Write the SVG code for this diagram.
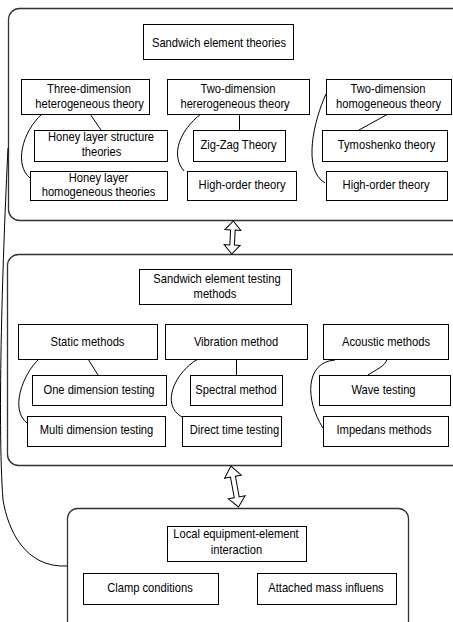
<svg xmlns="http://www.w3.org/2000/svg" width="453" height="622" viewBox="0 0 453 622">
<style>
.cont{fill:#fff;stroke:#333;stroke-width:1.3}
.box{fill:#fff;stroke:#000;stroke-width:1}
.ln{fill:none;stroke:#000;stroke-width:1}
.arr{fill:#fff;stroke:#000;stroke-width:1;stroke-linejoin:miter}
.t{font-family:"Liberation Sans",Arial,sans-serif;font-size:13px;fill:#000;text-anchor:middle;transform-box:fill-box;transform-origin:center;transform:scaleX(0.86)}
</style>
<rect width="453" height="622" fill="#fff"/>
<g id="containers">
<rect id="theories-container" class="cont" x="8.5" y="8.5" width="470" height="212" rx="11"/>
<rect id="testing-container" class="cont" x="7.5" y="254.5" width="470" height="211" rx="11"/>
<rect id="local-container" class="cont" x="67.5" y="508.5" width="341" height="140" rx="10"/>
</g>
<g id="connectors">
<path class="ln" d="M8,148 C3,250 -3,420 3,500 C8,530 25,568 67,566"/>
<path class="ln" d="M90,114 L101,130"/>
<path class="ln" d="M42,114 C22,132 14,165 30,178"/>
<path class="ln" d="M239.5,114 L239.5,130"/>
<path class="ln" d="M201,114 C180,130 170,155 184,171"/>
<path class="ln" d="M388,114 L359,130"/>
<path class="ln" d="M326,94 C314,120 302,170 325,183"/>
<path class="ln" d="M88,359 L98,375"/>
<path class="ln" d="M39,359 C22,375 10,410 27,423"/>
<path class="ln" d="M236.5,358 L236.5,375"/>
<path class="ln" d="M198,359 C175,372 160,405 182,417"/>
<path class="ln" d="M387,359 C386,366 375,370 368,375"/>
<path class="ln" d="M335,360 C305,362 305,400 323,428"/>
<polygon class="arr" transform="translate(232.5,237.5) rotate(2.8)" points="0,-16.5 8,-7.5 2.3,-7.5 2.3,7.5 8,7.5 0,16.5 -8,7.5 -2.3,7.5 -2.3,-7.5 -8,-7.5"/>
<polygon class="arr" transform="translate(234.75,486.5) rotate(-10.4)" points="0,-20.8 8.5,-10 2.5,-10 2.5,11 8.5,11 0,20.8 -8.5,11 -2.5,11 -2.5,-10 -8.5,-10"/>
</g>
<g id="n-theories"><rect class="box" x="143.5" y="24.5" width="150" height="35"/><text class="t" x="219" y="47">Sandwich element theories</text></g>
<g id="n-3d"><rect class="box" x="21.5" y="79.5" width="128" height="35"/><text class="t" x="89" y="93">Three-dimension</text><text class="t" x="89.5" y="108.5">heterogeneous theory</text></g>
<g id="n-2dhet"><rect class="box" x="167.5" y="79.5" width="142" height="35"/><text class="t" x="238" y="93">Two-dimension</text><text class="t" x="235" y="108.5">hererogeneous theory</text></g>
<g id="n-2dhom"><rect class="box" x="326.5" y="79.5" width="125" height="35"/><text class="t" x="388" y="93">Two-dimension</text><text class="t" x="388.5" y="108.5">homogeneous theory</text></g>
<g id="n-honey-struct"><rect class="box" x="34.5" y="130.5" width="133" height="31"/><text class="t" x="101" y="141">Honey layer structure</text><text class="t" x="101.5" y="156">theories</text></g>
<g id="n-zigzag"><rect class="box" x="193.5" y="130.5" width="92" height="31"/><text class="t" x="238.5" y="149">Zig-Zag Theory</text></g>
<g id="n-tymo"><rect class="box" x="322.5" y="130.5" width="125" height="31"/><text class="t" x="386.5" y="149">Tymoshenko theory</text></g>
<g id="n-honey-hom"><rect class="box" x="30.5" y="171.5" width="137" height="29"/><text class="t" x="98.5" y="182">Honey layer</text><text class="t" x="98.5" y="196">homogeneous theories</text></g>
<g id="n-high1"><rect class="box" x="187.5" y="171.5" width="109" height="29"/><text class="t" x="242" y="189">High-order theory</text></g>
<g id="n-high2"><rect class="box" x="326.5" y="171.5" width="121" height="29"/><text class="t" x="386" y="189">High-order theory</text></g>
<g id="n-testing"><rect class="box" x="139.5" y="269.5" width="152" height="35"/><text class="t" x="217" y="283.5">Sandwich element testing</text><text class="t" x="215" y="298.5">methods</text></g>
<g id="n-static"><rect class="box" x="18.5" y="324.5" width="139" height="35"/><text class="t" x="87.5" y="346">Static methods</text></g>
<g id="n-vib"><rect class="box" x="165.5" y="324.5" width="142" height="35"/><text class="t" x="236" y="346">Vibration  method</text></g>
<g id="n-acou"><rect class="box" x="323.5" y="324.5" width="125" height="35"/><text class="t" x="386" y="346">Acoustic methods</text></g>
<g id="n-one"><rect class="box" x="32.5" y="375.5" width="134" height="30"/><text class="t" x="99" y="394">One dimension testing</text></g>
<g id="n-spec"><rect class="box" x="190.5" y="375.5" width="92" height="30"/><text class="t" x="236" y="394">Spectral method</text></g>
<g id="n-wave"><rect class="box" x="319.5" y="375.5" width="131" height="30"/><text class="t" x="383.5" y="394">Wave testing</text></g>
<g id="n-multi"><rect class="box" x="27.5" y="416.5" width="138" height="30"/><text class="t" x="96.5" y="434">Multi dimension testing</text></g>
<g id="n-direct"><rect class="box" x="182.5" y="416.5" width="99" height="30"/><text class="t" x="234.5" y="434">Direct time testing</text></g>
<g id="n-imp"><rect class="box" x="323.5" y="416.5" width="125" height="30"/><text class="t" x="384" y="434">Impedans methods</text></g>
<g id="n-local"><rect class="box" x="167.5" y="526.5" width="139" height="35"/><text class="t" x="236" y="538.5">Local equipment-element</text><text class="t" x="236.5" y="554.5">interaction</text></g>
<g id="n-clamp"><rect class="box" x="83.5" y="573.5" width="135" height="31"/><text class="t" x="150" y="592.5">Clamp conditions</text></g>
<g id="n-mass"><rect class="box" x="257.5" y="573.5" width="139" height="31"/><text class="t" x="326" y="592.5">Attached mass influens</text></g>
</svg>
